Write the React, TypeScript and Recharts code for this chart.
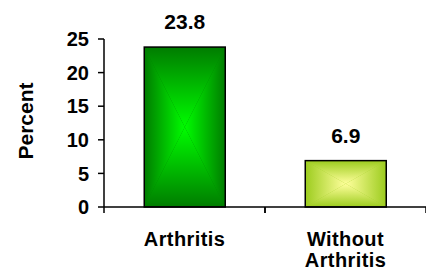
import React from "react";
import { BarChart, Bar, XAxis, YAxis, LabelList } from "recharts";

const categories = ["Arthritis", "Without Arthritis"];
const percentValues = [23.8, 6.9];
const yTicks = [0, 5, 10, 15, 20, 25];
const barEdgeColors = ["#007c00", "#9ccc1e"];
const barCenterColors = ["#00fc00", "#ffff9c"];

const data = categories.map((c, i) => ({ category: c, value: percentValues[i] }));

const W = 426;
const H = 277;
const Y_AXIS_W = 104;
const MARGIN = { top: 39, right: 0, bottom: 0, left: 0 };
const BAND = (W - Y_AXIS_W - MARGIN.right - MARGIN.left) / categories.length;
const FONT = "'Liberation Sans', Arial, Helvetica, sans-serif";

const GradBar = (props: any) => {
  const { x, y, width, height, index } = props;
  if (width == null || height == null) return null;
  const edge = barEdgeColors[index % barEdgeColors.length];
  const center = barCenterColors[index % barCenterColors.length];
  const cx = x + width / 2;
  const cy = y + height / 2;
  const id = `bg${index}`;
  const stops = (
    <>
      <stop offset="0%" stopColor={edge} />
      <stop offset="100%" stopColor={center} />
    </>
  );
  return (
    <g>
      <defs>
        <linearGradient id={`${id}t`} gradientUnits="userSpaceOnUse" x1={cx} y1={y} x2={cx} y2={cy}>{stops}</linearGradient>
        <linearGradient id={`${id}b`} gradientUnits="userSpaceOnUse" x1={cx} y1={y + height} x2={cx} y2={cy}>{stops}</linearGradient>
        <linearGradient id={`${id}l`} gradientUnits="userSpaceOnUse" x1={x} y1={cy} x2={cx} y2={cy}>{stops}</linearGradient>
        <linearGradient id={`${id}r`} gradientUnits="userSpaceOnUse" x1={x + width} y1={cy} x2={cx} y2={cy}>{stops}</linearGradient>
      </defs>
      <rect x={x} y={y} width={width} height={height} fill={edge} />
      <polygon points={`${x},${y} ${x + width},${y} ${cx},${cy}`} fill={`url(#${id}t)`} />
      <polygon points={`${x},${y + height} ${x + width},${y + height} ${cx},${cy}`} fill={`url(#${id}b)`} />
      <polygon points={`${x},${y} ${x},${y + height} ${cx},${cy}`} fill={`url(#${id}l)`} />
      <polygon points={`${x + width},${y} ${x + width},${y + height} ${cx},${cy}`} fill={`url(#${id}r)`} />
      <rect x={x} y={y} width={width} height={height} fill="none" stroke="#000" strokeWidth={1.5} />
    </g>
  );
};

const CategoryTick = (props: any) => {
  const { x, y, payload } = props;
  const lines = String(payload.value).split(" ");
  return (
    <g>
      <line x1={x - BAND / 2} y1={y} x2={x - BAND / 2} y2={y + 6} stroke="#000" strokeWidth={1.5} />
      <line x1={x + BAND / 2} y1={y} x2={x + BAND / 2} y2={y + 6} stroke="#000" strokeWidth={1.5} />
      {lines.map((ln, i) => (
        <text key={i} x={x} y={y + 39 + i * 21} textAnchor="middle" fontFamily={FONT} fontWeight="bold" fontSize={20} letterSpacing={0.4} fill="#000">
          {ln}
        </text>
      ))}
    </g>
  );
};

const ValueLabel = (props: any) => {
  const { x, y, width, value } = props;
  return (
    <text x={x + width / 2} y={y - 18} textAnchor="middle" fontFamily={FONT} fontWeight="bold" fontSize={21} fill="#000">
      {Number(value).toFixed(1)}
    </text>
  );
};

const PercentLabel = (props: any) => {
  const vb = props.viewBox || {};
  const tx = vb.x + 33;
  const ty = vb.y + vb.height / 2 - 2;
  return (
    <text x={tx} y={ty} transform={`rotate(-90, ${tx}, ${ty})`} textAnchor="middle" fontFamily={FONT} fontWeight="bold" fontSize={21} fill="#000">
      Percent
    </text>
  );
};

export default function App() {
  return (
    <div style={{ position: "absolute", left: 0, top: 0, width: W, height: H, background: "#fff" }}>
      <BarChart width={W} height={H} data={data} margin={MARGIN} barCategoryGap="25%">
        <XAxis
          dataKey="category"
          height={H - 207 - MARGIN.bottom}
          axisLine={{ stroke: "#000", strokeWidth: 1.5 }}
          tickLine={false}
          tickSize={0}
          tickMargin={0}
          interval={0}
          tick={<CategoryTick />}
        />
        <YAxis
          width={Y_AXIS_W}
          domain={[0, 25]}
          ticks={yTicks}
          interval={0}
          axisLine={{ stroke: "#000", strokeWidth: 1.5 }}
          tickLine={{ stroke: "#000", strokeWidth: 1.5 }}
          tickSize={6}
          tickMargin={9}
          tick={{ fontFamily: FONT, fontWeight: "bold", fontSize: 20, fill: "#000" }}
          label={<PercentLabel />}
        />
        <Bar dataKey="value" shape={<GradBar />} isAnimationActive={false}>
          <LabelList dataKey="value" content={<ValueLabel />} />
        </Bar>
      </BarChart>
    </div>
  );
}
